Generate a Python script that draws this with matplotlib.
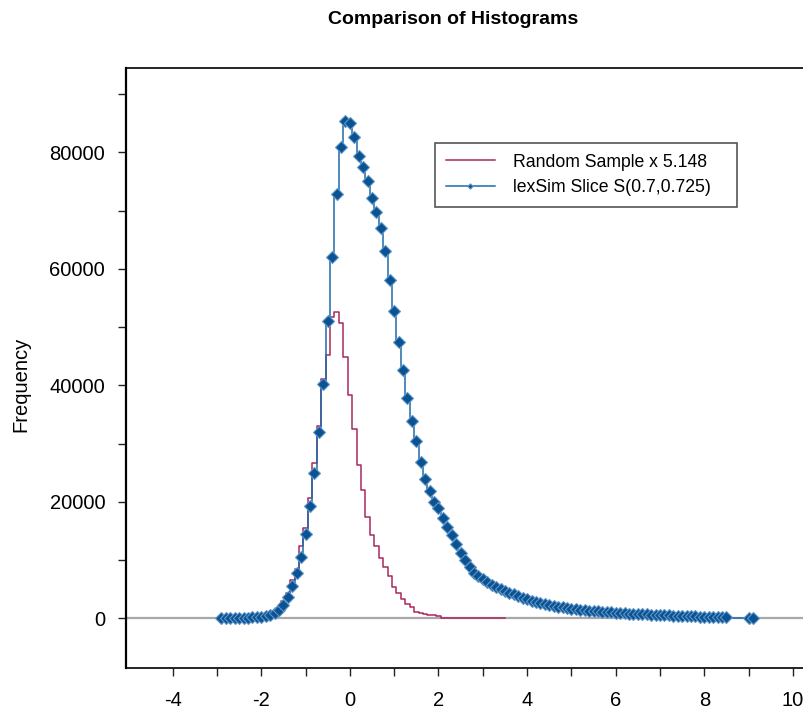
import numpy as np
import matplotlib
matplotlib.use("Agg")
import matplotlib.pyplot as plt
from matplotlib.ticker import FixedLocator

plt.rcParams['font.family'] = ['Liberation Sans', 'DejaVu Sans']

# ---------------- data ----------------
title = "Comparison of Histograms"
ylabel = "Frequency"
label_random = "Random Sample x 5.148"
label_sim = "lexSim Slice S(0.7,0.725)"

bin_width = 0.1

sim_start = -2.9
sim_counts = [
    30, 40, 40, 50, 60, 80, 110, 150, 210, 290,            # -2.9 .. -2.0
    420, 620, 930, 1450, 2300, 3700, 5550, 7850, 10600, 14450,  # -1.9 .. -1.0
    19200, 25000, 32000, 40300, 51000, 62000, 72900, 81000, 85400,  # -0.9 .. -0.1
    85100, 82700, 79400, 77400, 75100, 72200, 69800, 67000, 63100, 58000,  # 0.0 .. 0.9
    52800, 47500, 42600, 37900, 33800, 30500, 26900, 24000, 21900, 20000,  # 1.0 .. 1.9
    18900, 17300, 15700, 14300, 12700, 11200, 10000, 8800, 7800, 7300,     # 2.0 .. 2.9
    6700, 6200, 5800, 5350, 5000, 4650, 4350, 4100, 3800, 3550,            # 3.0 .. 3.9
    3300, 3050, 2850, 2650, 2450, 2300, 2150, 2000, 1880, 1770,            # 4.0 .. 4.9
    1660, 1580, 1500, 1420, 1340, 1270, 1200, 1140, 1080, 1020,            # 5.0 .. 5.9
    960, 910, 860, 820, 780, 740, 700, 660, 620, 590,                      # 6.0 .. 6.9
    560, 530, 500, 470, 440, 410, 380, 350, 330, 310,                      # 7.0 .. 7.9
    290, 270, 250, 230, 210, 190, 0, 0, 0, 0,                              # 8.0 .. 8.9
    120, 100,                                                              # 9.0 .. 9.1
]

rand_start = -2.5
rand_counts = [
    20, 40, 60, 120, 200,                                   # -2.5 .. -2.1
    320, 520, 820, 1300, 2000, 2950, 4300, 6600, 8500, 12400,  # -2.0 .. -1.1
    15500, 20600, 26600, 33000, 41000, 45200, 51700, 52600, 50700, 44900,  # -1.0 .. -0.1
    38300, 32500, 26400, 22000, 17400, 14300, 12400, 10400, 8850, 7200,    # 0.0 .. 0.9
    5400, 4400, 3300, 2500, 1900, 1150, 950, 740, 570, 570,                # 1.0 .. 1.9
    450, 120, 80, 60, 40, 30, 20, 20, 10, 10,                              # 2.0 .. 2.9
    0, 60, 0, 60, 0, 0,                                                    # 3.0 .. 3.5
]

x_major = [-4, -2, 0, 2, 4, 6, 8, 10]
x_minor = [-3, -1, 1, 3, 5, 7, 9]
y_major = [0, 20000, 40000, 60000, 80000]
y_minor = [10000, 30000, 50000, 70000, 90000]

# ---------------- figure ----------------
fig = plt.figure(figsize=(8.04, 7.13), dpi=100)
ax = fig.add_axes([126 / 804, 1 - 667.7 / 713, 684 / 804, 599.7 / 713])

sim_x = sim_start + bin_width * np.arange(len(sim_counts))
rand_x = rand_start + bin_width * np.arange(len(rand_counts))
sim_y = np.array(sim_counts, dtype=float)
rand_y = np.array(rand_counts, dtype=float)

ax.axhline(0, color='#a8a8a8', lw=1.6, zorder=1)

red = '#a8285f'
ax.plot(rand_x, rand_y, drawstyle='steps-mid', color=red, lw=1.1,
        label=label_random, zorder=2)

marker_idx = [i for i, v in enumerate(sim_counts) if v > 0]
ax.plot(sim_x, sim_y, drawstyle='steps-mid', color='#1f6aab', lw=1.1,
        marker='D', markersize=6.0, markerfacecolor='#0b5292',
        markeredgecolor='#6096c8', markeredgewidth=0.8,
        markevery=marker_idx, label=label_sim, zorder=3)

ax.set_xlim((126 - 349.9) / 44.3, (810 - 349.9) / 44.3)
ax.set_ylim(-8480, 94480)

ax.xaxis.set_major_locator(FixedLocator(x_major))
ax.xaxis.set_minor_locator(FixedLocator(x_minor))
ax.yaxis.set_major_locator(FixedLocator(y_major))
ax.yaxis.set_minor_locator(FixedLocator(y_minor))
ax.set_xticklabels([str(v) for v in x_major])
ax.set_yticklabels([str(v) for v in y_major])

ax.tick_params(axis='both', which='both', direction='out', length=6,
               width=1.0, color='#222222', labelsize=14.5)
ax.tick_params(axis='x', which='major', pad=11)
ax.tick_params(axis='y', which='major', pad=9)
ax.tick_params(top=False, right=False)

for side in ['left', 'bottom', 'top']:
    ax.spines[side].set_color('black')
ax.spines['left'].set_linewidth(1.6)
ax.spines['bottom'].set_linewidth(1.2)
ax.spines['top'].set_linewidth(1.2)
ax.spines['right'].set_visible(False)

ax.set_ylabel(ylabel, fontsize=14.5)
ax.yaxis.set_label_coords(-0.140, 0.473)

fig.text(453 / 804, 1 - 20 / 713, title, ha='center', va='center',
         fontsize=14, fontweight='bold')

leg = ax.legend(loc='upper left',
                bbox_to_anchor=((435 - 126) / 684, (667.7 - 143) / 599.7,
                                (737 - 435) / 684, 0.0),
                mode='expand', borderaxespad=0, fontsize=12.7,
                handlelength=2.8, handletextpad=1.0, labelspacing=0.5,
                borderpad=0.6, markerscale=0.45, fancybox=False,
                framealpha=1, edgecolor='#555555')
leg.get_frame().set_linewidth(1.2)

fig.savefig('out.png', dpi=100)
